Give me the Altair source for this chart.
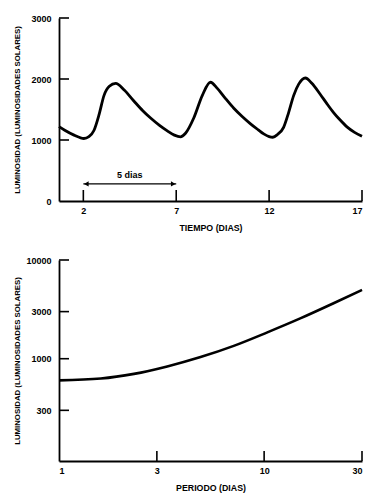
import altair as alt
import pandas as pd

# ---------------- data ----------------
# Top: light curve of a Cepheid (day, luminosity in solar luminosities)
top_days = [0.69, 1.0, 1.5, 2.03, 2.3, 2.57, 2.85, 3.11, 3.4, 3.74, 4.2, 4.72, 5.2, 5.62,
            6.1, 6.52, 6.9, 7.23, 7.5, 7.95, 8.4, 8.84, 9.2, 9.6, 10.1, 10.55, 11.0,
            11.4, 11.71, 12.0, 12.2, 12.45, 12.78, 13.05, 13.32, 13.6, 13.95, 14.3, 14.75,
            15.1, 15.47, 15.8, 16.19, 16.6, 17.0]
top_lum = [1219, 1160, 1080, 1025, 1055, 1156, 1420, 1728, 1880, 1927, 1820, 1640, 1480, 1360,
           1240, 1150, 1080, 1052, 1110, 1364, 1728, 1947, 1850, 1700, 1520, 1385, 1265,
           1170, 1100, 1055, 1045, 1090, 1208, 1450, 1728, 1920, 2016, 1930, 1750,
           1600, 1450, 1335, 1215, 1125, 1060]

top_x_ticks = [2, 7, 12, 17]
top_y_ticks = [0, 1000, 2000, 3000]
top_y_inner_ticks = [1000, 2000, 3000]

arrow_start = [2]
arrow_end = [7]
arrow_y = [280]
arrow_label = ["5 dias"]
arrow_label_x = [4.5]
arrow_label_y = [430]

# Bottom: period-luminosity relation
per_period = [1.0, 1.6, 2.32, 3.37, 4.9, 7.11, 10.3, 15.0, 21.8, 30.0]
per_lum = [604, 630, 702, 836, 1040, 1350, 1839, 2559, 3644, 4977]

bot_x_ticks = [1, 3, 10, 30]
bot_x_inner_ticks = [3, 10, 30]
bot_y_ticks = [300, 1000, 3000, 10000]

# ---------------- style ----------------
FONT = "Liberation Sans"
W = 303
H_TOP = 183
H_BOT = 201

def yaxis(title, values, title_pad):
    return alt.Axis(values=values, title=title, ticks=False, grid=False,
                    domainColor="black", domainWidth=1.8,
                    labelFont=FONT, labelFontSize=9, labelFontWeight="bold",
                    labelColor="black", labelPadding=8, format="d",
                    titleFont=FONT, titleFontSize=7.8, titleFontWeight="bold",
                    titleColor="black", titlePadding=title_pad)

def xaxis(title, values, title_pad):
    return alt.Axis(values=values, title=title, ticks=False, grid=False,
                    domainColor="black", domainWidth=1.8,
                    labelFont=FONT, labelFontSize=9, labelFontWeight="bold",
                    labelColor="black", labelPadding=5, format="d",
                    labelOverlap=False,
                    titleFont=FONT, titleFontSize=8.8, titleFontWeight="bold",
                    titleColor="black", titlePadding=title_pad)

# ---------------- top chart ----------------
xs_top = alt.Scale(domain=[0.69, 17], nice=False, zero=False)
ys_top = alt.Scale(domain=[0, 3000], nice=False)
XA_TOP = xaxis("TIEMPO (DIAS)", top_x_ticks, 8)
YA_TOP = yaxis("LUMINOSIDAD (LUMINOSIDADES SOLARES)", top_y_ticks, 9)

def tx(field):
    return alt.X(field, type="quantitative", scale=xs_top, axis=XA_TOP)

def ty(field):
    return alt.Y(field, type="quantitative", scale=ys_top, axis=YA_TOP)

df_top = pd.DataFrame({"day": top_days, "lum": top_lum})
top_line = alt.Chart(df_top).mark_line(color="black", strokeWidth=2.8,
                                       interpolate="monotone").encode(
    x=tx("day"), y=ty("lum"))

top_xt = alt.Chart(pd.DataFrame({"day": top_x_ticks})).mark_rule(
    color="black", strokeWidth=1.6).encode(
    x=tx("day"), y=alt.value(H_TOP), y2=alt.value(H_TOP - 11))

top_yt = alt.Chart(pd.DataFrame({"lum": top_y_inner_ticks})).mark_rule(
    color="black", strokeWidth=1.6).encode(
    y=ty("lum"), x=alt.value(0), x2=alt.value(10))

df_arrow = pd.DataFrame({"day": arrow_start, "x2": arrow_end, "lum": arrow_y,
                         "lx": arrow_label_x, "ly": arrow_label_y, "t": arrow_label})
arrow_line = alt.Chart(df_arrow).mark_rule(color="black", strokeWidth=1.4).encode(
    x=tx("day"), x2="x2:Q", y=ty("lum"))
arrow_l = alt.Chart(df_arrow).mark_point(shape="triangle-left", filled=True,
                                         color="black", size=28, opacity=1).encode(
    x=tx("day"), y=ty("lum"), xOffset=alt.value(3))
arrow_r = alt.Chart(df_arrow).mark_point(shape="triangle-right", filled=True,
                                         color="black", size=28, opacity=1).encode(
    x=tx("x2"), y=ty("lum"), xOffset=alt.value(-3))
arrow_text = alt.Chart(df_arrow).mark_text(font=FONT, fontSize=9, fontWeight="bold",
                                           color="black", baseline="middle",
                                           align="center").encode(
    x=tx("lx"), y=ty("ly"), text="t:N")

top = alt.layer(top_line, top_xt, top_yt, arrow_line, arrow_l, arrow_r,
                arrow_text).properties(width=W, height=H_TOP)

# ---------------- bottom chart ----------------
xs_bot = alt.Scale(type="log", domain=[1, 30], nice=False)
ys_bot = alt.Scale(type="log", domain=[92, 10000], nice=False)
XA_BOT = xaxis("PERIODO (DIAS)", bot_x_ticks, 8)
YA_BOT = yaxis("LUMINOSIDAD (LUMINOSIDADES SOLARES)", bot_y_ticks, 4)

def bx(field):
    return alt.X(field, type="quantitative", scale=xs_bot, axis=XA_BOT)

def by(field):
    return alt.Y(field, type="quantitative", scale=ys_bot, axis=YA_BOT)

df_bot = pd.DataFrame({"p": per_period, "lum": per_lum})
bot_line = alt.Chart(df_bot).mark_line(color="black", strokeWidth=2.6,
                                       interpolate="monotone").encode(
    x=bx("p"), y=by("lum"))
bot_xt = alt.Chart(pd.DataFrame({"p": bot_x_inner_ticks})).mark_rule(
    color="black", strokeWidth=1.6).encode(
    x=bx("p"), y=alt.value(H_BOT), y2=alt.value(H_BOT - 10))
bot_yt = alt.Chart(pd.DataFrame({"lum": bot_y_ticks})).mark_rule(
    color="black", strokeWidth=1.6).encode(
    y=by("lum"), x=alt.value(0), x2=alt.value(10))

bottom = alt.layer(bot_line, bot_xt, bot_yt).properties(width=W, height=H_BOT)

chart = alt.vconcat(top, bottom, spacing=24).properties(
    padding={"left": 5, "top": 6, "right": 5, "bottom": 5},
    background="white",
).configure_view(stroke=None)

chart.save("out.html", embed_options={"renderer": "svg", "actions": False})
